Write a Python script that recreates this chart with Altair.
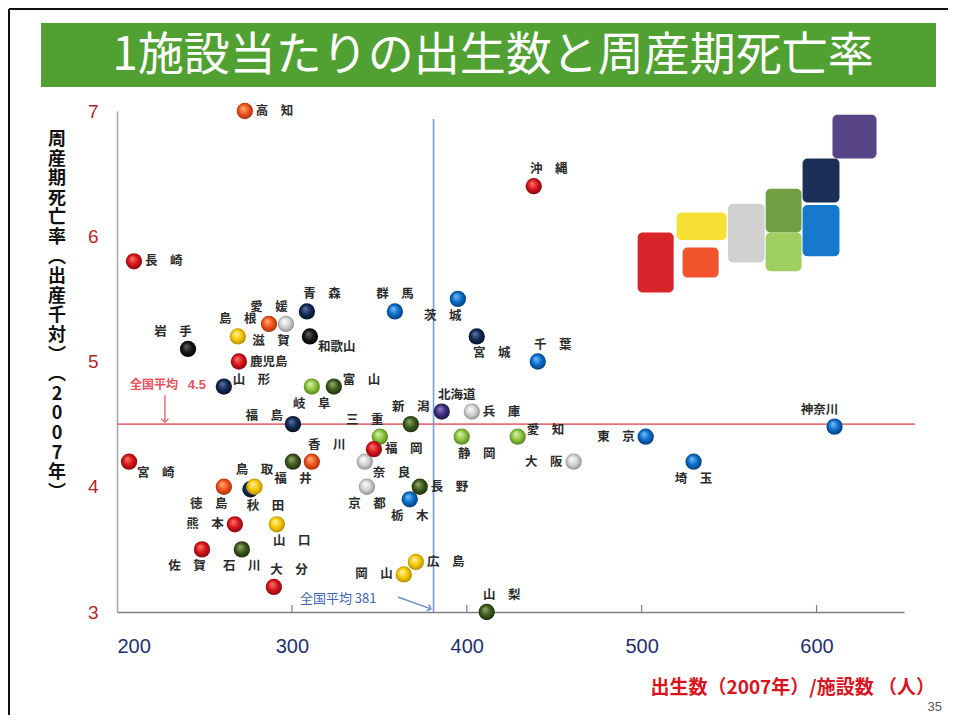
import altair as alt
import pandas as pd

# ---------------- data ----------------
prefectures = ["北海道", "青森", "岩手", "宮城", "秋田", "山形", "福島", "茨城", "栃木", "群馬",
               "埼玉", "千葉", "東京", "神奈川", "新潟", "富山", "石川", "福井", "山梨", "長野",
               "岐阜", "静岡", "愛知", "三重", "滋賀", "京都", "大阪", "兵庫", "奈良", "和歌山",
               "鳥取", "島根", "岡山", "広島", "山口", "徳島", "香川", "愛媛", "高知", "福岡",
               "佐賀", "長崎", "熊本", "大分", "宮崎", "鹿児島", "沖縄"]
births_per_facility = [385.7, 308.6, 240.6, 405.7, 276.3, 261.1, 300.6, 394.9, 367.4, 358.9,
                       529.7, 440.6, 502.3, 610.3, 368.0, 324.0, 271.4, 300.6, 411.4, 373.1,
                       311.4, 397.1, 429.1, 350.3, 296.6, 342.9, 461.1, 402.9, 341.7, 310.3,
                       278.6, 269.1, 364.0, 370.9, 291.4, 261.1, 311.4, 286.9, 273.1, 346.9,
                       248.6, 209.7, 267.4, 289.7, 206.9, 269.7, 438.3]
perinatal_mortality = [4.6, 5.4, 5.1, 5.2, 3.98, 4.8, 4.5, 5.5, 3.9, 5.4,
                       4.2, 5.0, 4.4, 4.48, 4.5, 4.8, 3.5, 4.2, 3.0, 4.0,
                       4.8, 4.4, 4.4, 4.4, 5.3, 4.0, 4.2, 4.6, 4.2, 5.2,
                       4.0, 5.2, 3.3, 3.4, 3.7, 4.0, 4.2, 5.3, 7.0, 4.3,
                       3.5, 5.8, 3.7, 3.2, 4.2, 5.0, 6.4]
color_group = ["purple", "navy", "black", "navy", "navy", "navy", "navy", "blue", "blue", "blue",
               "blue", "blue", "blue", "blue", "darkgreen", "darkgreen", "darkgreen", "darkgreen", "darkgreen", "darkgreen",
               "lightgreen", "lightgreen", "lightgreen", "lightgreen", "silver", "silver", "silver", "silver", "silver", "black",
               "yellow", "yellow", "yellow", "yellow", "yellow", "orange", "orange", "orange", "orange", "red",
               "red", "red", "red", "red", "red", "red", "red"]
label_side = ["NE", "NE", "NW", "SE", "SE", "EN", "WN", "SW", "S", "N",
              "S", "NE", "W", "NW", "N", "EN", "S", "S", "NE", "E",
              "S", "SE", "EN", "NW", "SW", "S", "W", "E", "ES", "ES",
              "N", "N", "W", "E", "SE", "SW", "NE", "N", "E", "E",
              "SW", "E", "W", "NE", "ES", "E", "NE"]

# decorative region blocks (Japan map legend), in data units
block_group = ["purple", "navy", "blue", "darkgreen", "lightgreen", "silver", "yellow", "orange", "red"]
block_x1 = [609.1, 592.0, 592.0, 570.9, 570.9, 549.4, 520.0, 523.4, 497.7]
block_x2 = [634.3, 613.1, 613.1, 591.4, 591.4, 570.3, 548.6, 544.0, 518.3]
block_y1 = [6.97, 6.62, 6.25, 6.38, 6.03, 6.26, 6.19, 5.91, 6.03]
block_y2 = [6.62, 6.27, 5.84, 6.03, 5.72, 5.79, 5.97, 5.67, 5.55]

national_births = 381
national_mortality = 4.5
x_ticks = [200, 300, 400, 500, 600]
y_ticks = [3, 4, 5, 6, 7]

# ---------------- styles ----------------
FONT = "Noto Sans CJK JP"
W, H = 787, 501

# drawing order: later groups sit on top
ball_colors = {
    "purple": ("#9484d0", "#3c2f7a", "#1a123c"),
    "navy": ("#5a78a8", "#112a52", "#040c1c"),
    "black": ("#666666", "#161616", "#000000"),
    "blue": ("#7ac0ff", "#0a6cc8", "#04386e"),
    "darkgreen": ("#98ae6a", "#3c5a1e", "#18280a"),
    "lightgreen": ("#e0f5b5", "#8cc43c", "#4a7a18"),
    "silver": ("#ffffff", "#d2d2d2", "#858585"),
    "yellow": ("#fff4b0", "#f6c800", "#a88400"),
    "orange": ("#ffb080", "#f0521c", "#9a2a08"),
    "red": ("#ff7a6a", "#d6141c", "#7a080c"),
}
block_colors = {
    "purple": "#4e3a80", "navy": "#0e2550", "blue": "#0a72c8", "darkgreen": "#6a9a3a",
    "lightgreen": "#9acb58", "silver": "#cfcfcf", "yellow": "#f8de2a", "orange": "#f04a22", "red": "#d81820",
}
side_style = {
    "E": dict(align="left", dx=11, dy=0),
    "W": dict(align="right", dx=-11, dy=0),
    "N": dict(align="center", dx=0, dy=-17),
    "S": dict(align="center", dx=0, dy=17),
    "NE": dict(align="center", dx=15, dy=-17),
    "NW": dict(align="center", dx=-15, dy=-17),
    "SE": dict(align="center", dx=15, dy=17),
    "SW": dict(align="center", dx=-15, dy=17),
    "ES": dict(align="left", dx=8, dy=11),
    "EN": dict(align="left", dx=9, dy=-7),
    "WN": dict(align="right", dx=-10, dy=-8),
}


def spaced(name):
    return "\u3000".join(name) if len(name) == 2 else name


df = pd.DataFrame({
    "pref": prefectures,
    "label": [spaced(p) for p in prefectures],
    "x": births_per_facility,
    "y": perinatal_mortality,
    "group": color_group,
    "side": label_side,
})
blocks = pd.DataFrame({"group": block_group, "x1": block_x1, "x2": block_x2, "y1": block_y1, "y2": block_y2})
one = pd.DataFrame({"a": [0]})

xscale = alt.Scale(domain=[200, 650], nice=False, zero=False)
yscale = alt.Scale(domain=[3, 7], nice=False, zero=False)

X = alt.X("x:Q", scale=xscale, title=None,
          axis=alt.Axis(values=x_ticks, grid=False, ticks=False, labelFontSize=20, labelColor="#1f2f6e",
                        labelFont="Liberation Sans", labelPadding=24, domainColor="#808080", domainWidth=1.5,
                        labelFlush=True, format="d"))
Y = alt.Y("y:Q", scale=yscale, title=None,
          axis=alt.Axis(values=y_ticks, grid=False, ticks=False, labelFontSize=19, labelColor="#b3262b",
                        labelFont="Liberation Sans", labelPadding=19, domainColor="#a8a8a8", domainWidth=1.5,
                        labelFlush=False, format="d"))

layers = []

# title band and frame (decoration outside the plot)
layers.append(alt.Chart(one).mark_rect(color="#50a032").encode(
    x=alt.value(-76), x2=alt.value(819), y=alt.value(-88), y2=alt.value(-24)))
layers.append(alt.Chart(one).mark_text(text="1施設当たりの出生数と周産期死亡率", font=FONT, fontSize=46,
                                       color="white", align="center", baseline="middle").encode(
    x=alt.value(376), y=alt.value(-55)))
layers.append(alt.Chart(one).mark_rule(color="#111111", strokeWidth=2).encode(
    x=alt.value(-108), x2=alt.value(840), y=alt.value(-102)))
layers.append(alt.Chart(one).mark_rule(color="#111111", strokeWidth=2).encode(
    x=alt.value(-108), y=alt.value(-102), y2=alt.value(610)))

# axes (base layer) with points invisible
base = alt.Chart(df).mark_point(opacity=0).encode(x=X, y=Y)
layers.append(base)

# x ticks pointing up
layers.append(alt.Chart(pd.DataFrame({"x": x_ticks[1:]})).mark_rule(color="#808080", strokeWidth=1.2).encode(
    x=alt.X("x:Q", scale=xscale), y=alt.value(H - 7), y2=alt.value(H)))

# national average lines
layers.append(alt.Chart(one).mark_rule(color="#e8707a", strokeWidth=1.6).encode(
    x=alt.value(0), x2=alt.value(W + 11), y=alt.datum(national_mortality, type="quantitative", scale=yscale)))
layers.append(alt.Chart(one).mark_rule(color="#7b9bd2", strokeWidth=1.6).encode(
    x=alt.datum(national_births, type="quantitative", scale=xscale), y=alt.value(8), y2=alt.value(H)))

# annotation: 全国平均 4.5
layers.append(alt.Chart(one).mark_text(text="全国平均", font=FONT, fontSize=12, fontWeight="bold", color="#e8505a",
                                       align="left", baseline="middle").encode(
    x=alt.datum(207.4, type="quantitative", scale=xscale), y=alt.datum(4.81, type="quantitative", scale=yscale)))
layers.append(alt.Chart(one).mark_text(text="4.5", font="Liberation Sans", fontSize=13, fontWeight="bold",
                                       color="#e8505a", align="left", baseline="middle").encode(
    x=alt.datum(240.5, type="quantitative", scale=xscale), y=alt.datum(4.81, type="quantitative", scale=yscale)))
layers.append(alt.Chart(one).mark_rule(color="#e8707a", strokeWidth=1.5).encode(
    x=alt.datum(227.4, type="quantitative", scale=xscale),
    y=alt.datum(4.73, type="quantitative", scale=yscale), y2=alt.datum(4.515, type="quantitative")))
layers.append(alt.Chart(one).mark_point(shape="M-1,-1L0,0L1,-1", size=50, filled=False, color="#e8707a",
                                        strokeWidth=1.5, opacity=1).encode(
    x=alt.datum(227.4, type="quantitative", scale=xscale), y=alt.datum(4.515, type="quantitative", scale=yscale)))

# annotation: 全国平均 381
layers.append(alt.Chart(one).mark_text(text="全国平均  381", font=FONT, fontSize=13, color="#3f64b0",
                                       align="left", baseline="middle").encode(
    x=alt.datum(304.6, type="quantitative", scale=xscale), y=alt.datum(3.1, type="quantitative", scale=yscale)))
layers.append(alt.Chart(one).mark_rule(color="#6f8fc8", strokeWidth=1.5).encode(
    x=alt.datum(360.6, type="quantitative", scale=xscale), x2=alt.datum(379.5, type="quantitative"),
    y=alt.datum(3.12, type="quantitative", scale=yscale), y2=alt.datum(3.025, type="quantitative")))
layers.append(alt.Chart(one).mark_point(shape="M-1,-1L0,0L-1,1", size=45, filled=False, color="#6f8fc8",
                                        strokeWidth=1.5, opacity=1, angle=19).encode(
    x=alt.datum(379.5, type="quantitative", scale=xscale), y=alt.datum(3.025, type="quantitative", scale=yscale)))

# region blocks
layers.append(alt.Chart(blocks).mark_rect(cornerRadius=5, opacity=0.95).encode(
    x=alt.X("x1:Q", scale=xscale), x2="x2:Q",
    y=alt.Y("y1:Q", scale=yscale), y2="y2:Q",
    color=alt.Color("group:N", scale=alt.Scale(domain=list(block_colors.keys()),
                                               range=list(block_colors.values())), legend=None)))

# balls, one layer per colour group (glossy radial gradient)
for g, (light, mid, dark) in ball_colors.items():
    grad = alt.RadialGradient(gradient="radial", x1=0.38, y1=0.32, r1=0.0, x2=0.5, y2=0.5, r2=0.55,
                              stops=[alt.GradientStop(offset=0, color=light),
                                     alt.GradientStop(offset=0.55, color=mid),
                                     alt.GradientStop(offset=1, color=dark)])
    layers.append(alt.Chart(df).transform_filter(alt.datum.group == g).mark_circle(
        size=265, opacity=1, fill=grad).encode(x=alt.X("x:Q", scale=xscale), y=alt.Y("y:Q", scale=yscale)))

# labels, one layer per side
for s, st in side_style.items():
    layers.append(alt.Chart(df).transform_filter(alt.datum.side == s).mark_text(
        font=FONT, fontSize=12.5, fontWeight="bold", color="#2b2b2b", baseline="middle", **st).encode(
        x=alt.X("x:Q", scale=xscale), y=alt.Y("y:Q", scale=yscale), text="label:N"))

# vertical y-axis title
ytitle = "\n".join(list("周産期死亡率︵出産千対︶") + [" "] + list("︵2007年︶"))
layers.append(alt.Chart(one).mark_text(text=ytitle, lineBreak="\n", font=FONT, fontSize=18, fontWeight="bold",
                                       lineHeight=19.6, color="#111111", align="center", baseline="top").encode(
    x=alt.value(-60), y=alt.value(20)))

# x-axis title and page number
layers.append(alt.Chart(one).mark_text(text="出生数（2007年）/施設数 （人）", font=FONT, fontSize=19, fontWeight="bold",
                                       color="#d9141e", align="right", baseline="middle").encode(
    x=alt.value(818), y=alt.value(577)))
layers.append(alt.Chart(one).mark_text(text="35", font="Liberation Sans", fontSize=13, color="#555555",
                                       align="right", baseline="middle").encode(
    x=alt.value(825), y=alt.value(596)))

chart = alt.layer(*layers).properties(
    width=W, height=H,
    autosize=alt.AutoSizeParams(type="none"),
    padding={"left": 109, "top": 103, "right": 44, "bottom": 103},
    background="white",
).configure_view(stroke=None)

chart.save("out.html", embed_options={"renderer": "svg", "actions": False})
